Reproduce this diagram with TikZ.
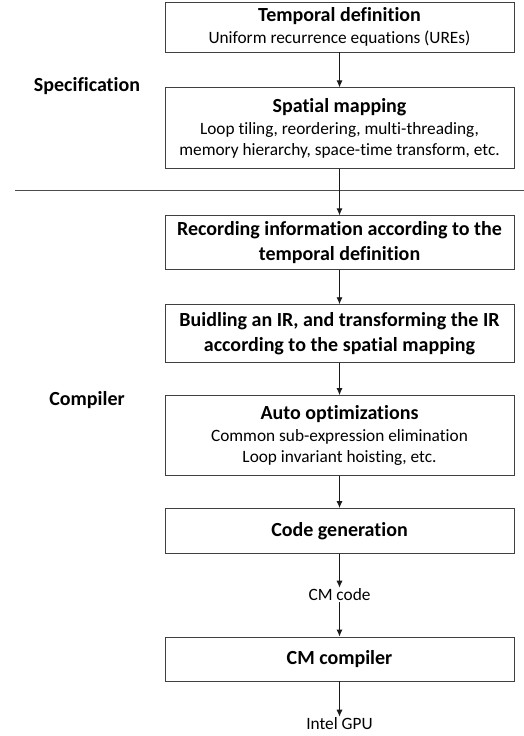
\documentclass[tikz,border=0pt]{standalone}
\usepackage{fontspec}
\setmainfont{Carlito}[Ligatures=NoCommon]
\usetikzlibrary{positioning,arrows.meta}

\begin{document}
\begin{tikzpicture} [
	x=1pt, y=1pt,
	node distance = 32pt,
	box/.style = {
		draw=black!75,
		line width=0.9pt,
		minimum width=349pt,
		align=center,
		inner sep=0pt,
		font=\fontsize{17.3}{21.5}\selectfont
	},
	title/.style = {font=\fontsize{20}{25}\selectfont\bfseries},
	plain/.style = {inner sep=1pt, font=\fontsize{17.3}{21}\selectfont},
	side/.style = {inner sep=0pt, font=\fontsize{20}{24}\selectfont\bfseries},
	conn/.style = {draw, -{Latex[length=7pt,width=6pt]}, line width=0.9pt, black!90}
]
\useasboundingbox (0,0) rectangle (524,-736);

\node (temporal) [box, minimum height=50pt] at (339.5,-27) {
\textbf{\fontsize{20}{24}\selectfont Temporal definition}\\ Uniform recurrence equations (UREs)
};
\node (spatial) [box, minimum height=81pt, below=35pt of temporal] {
\textbf{\fontsize{20}{24}\selectfont Spatial mapping}\\
Loop tiling, reordering, multi-threading,\\
memory hierarchy, space-time transform, etc.
};
\node (record) [box, title, minimum height=54pt, below=46pt of spatial] {
Recording information according to the\\ temporal definition
};
\node (buildir) [box, title, minimum height=58pt, below=34pt of record] {
Buidling an IR, and transforming the IR\\ according to the spatial mapping
};
\node (autoopt) [box, minimum height=80pt, below=32pt of buildir] {
\textbf{\fontsize{20}{24}\selectfont Auto optimizations}\\
Common sub-expression elimination\\ Loop invariant hoisting, etc.
};
\node (codegen) [box, title, minimum height=45pt, below=32pt of autoopt] {Code generation};
\node (cmcode) [plain] at (339.5,-595) {CM code};
\node (cmcomp) [box, title, minimum height=44pt] at (339.5,-659) {CM compiler};
\node (gpu) [plain] at (339.5,-724) {Intel GPU};

\node (spec) [side] at (87,-86) {Specification};
\node (comp) [side] at (87,-400) {Compiler};

\coordinate (sepl) at (15,-190);
\coordinate (sepr) at (524,-190);
\draw [black!70, line width=0.8pt] (sepl) -- (sepr);

\draw [conn]  (temporal) -- (spatial);
\draw [conn]  (spatial) -- (record);
\draw [conn]  (record) -- (buildir);
\draw [conn]  (buildir) -- (autoopt);
\draw [conn]  (autoopt) -- (codegen);
\draw [conn]  (codegen) -- (cmcode);
\draw [conn]  (cmcode) -- (cmcomp);
\draw [conn]  (cmcomp) -- (gpu);

\end{tikzpicture}
\end{document}
